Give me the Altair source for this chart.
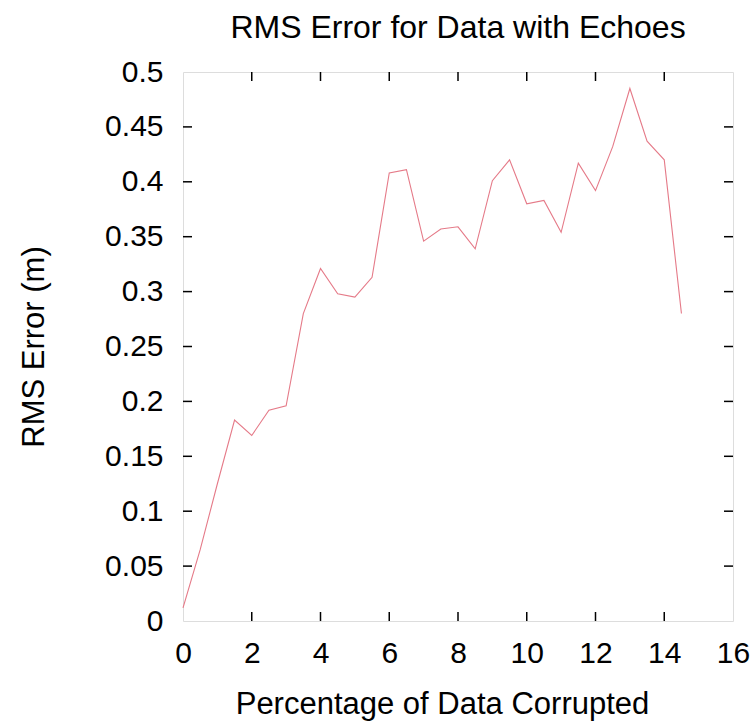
import altair as alt
import pandas as pd

pct = [0.0, 0.5, 1.0, 1.5, 2.0, 2.5, 3.0, 3.5, 4.0, 4.5, 5.0, 5.5, 6.0, 6.5, 7.0,
       7.5, 8.0, 8.5, 9.0, 9.5, 10.0, 10.5, 11.0, 11.5, 12.0, 12.5, 13.0, 13.5, 14.0, 14.5]
rms = [0.012, 0.065, 0.125, 0.183, 0.169, 0.192, 0.196, 0.280, 0.321, 0.298, 0.295, 0.313,
       0.408, 0.411, 0.346, 0.357, 0.359, 0.339, 0.401, 0.420, 0.380, 0.383, 0.354, 0.417,
       0.392, 0.432, 0.485, 0.437, 0.420, 0.280]

x_ticks = [0, 2, 4, 6, 8, 10, 12, 14, 16]
y_ticks = [0, 0.05, 0.1, 0.15, 0.2, 0.25, 0.3, 0.35, 0.4, 0.45, 0.5]
title_text = ["RMS Error for Data with Echoes"]

FONT = "Liberation Sans"
W, H = 550, 549
TL = 9

df = pd.DataFrame({"x": pct, "y": rms})
xt = pd.DataFrame({"t": x_ticks[1:-1]})
yt = pd.DataFrame({"t": y_ticks[1:-1]})
tt = pd.DataFrame({"label": title_text})

xscale = alt.Scale(domain=[0, 16], nice=False, zero=False)
yscale = alt.Scale(domain=[0, 0.5], nice=False, zero=False)

line = alt.Chart(df).mark_line(color="#e57a88", strokeWidth=1.1).encode(
    x=alt.X("x:Q", scale=xscale,
            axis=alt.Axis(title="Percentage of Data Corrupted", values=x_ticks,
                          ticks=False, grid=False, domain=False,
                          labelFont=FONT, labelFontSize=30, labelColor="black",
                          labelBaseline="alphabetic", labelPadding=41,
                          labelFlush=False, labelOverlap=False,
                          titleFont=FONT, titleFontSize=31, titleFontWeight="normal",
                          titleColor="black", titleBaseline="alphabetic",
                          titleAlign="center", titleX=259, titleY=92)),
    y=alt.Y("y:Q", scale=yscale,
            axis=alt.Axis(title="RMS Error (m)", values=y_ticks, format="~g",
                          ticks=False, grid=False, domain=False,
                          labelFont=FONT, labelFontSize=30, labelColor="black",
                          labelPadding=20, labelFlush=False, labelOverlap=False,
                          titleFont=FONT, titleFontSize=31, titleFontWeight="normal",
                          titleColor="black", titleBaseline="alphabetic", titleX=-140)),
)

tick_style = dict(color="black", strokeWidth=1.5)
xb = alt.Chart(xt).mark_rule(**tick_style).encode(
    x=alt.X("t:Q", scale=xscale), y=alt.value(H), y2=alt.value(H - TL))
xtop = alt.Chart(xt).mark_rule(**tick_style).encode(
    x=alt.X("t:Q", scale=xscale), y=alt.value(0), y2=alt.value(TL))
yl = alt.Chart(yt).mark_rule(**tick_style).encode(
    y=alt.Y("t:Q", scale=yscale), x=alt.value(0), x2=alt.value(TL))
yr = alt.Chart(yt).mark_rule(**tick_style).encode(
    y=alt.Y("t:Q", scale=yscale), x=alt.value(W - TL), x2=alt.value(W))

title = alt.Chart(tt).mark_text(font=FONT, fontSize=32, color="black",
                                align="center", baseline="alphabetic").encode(
    text="label:N", x=alt.value(W / 2), y=alt.value(-34))

chart = alt.layer(line, xb, xtop, yl, yr, title).properties(
    width=W, height=H,
    autosize=alt.AutoSizeParams(type="none"),
    padding={"left": 183, "top": 72, "right": 23, "bottom": 101},
).configure_view(stroke="black", strokeWidth=1.5).configure(background="white")

chart.save("out.html", embed_options={"renderer": "svg", "actions": False})
